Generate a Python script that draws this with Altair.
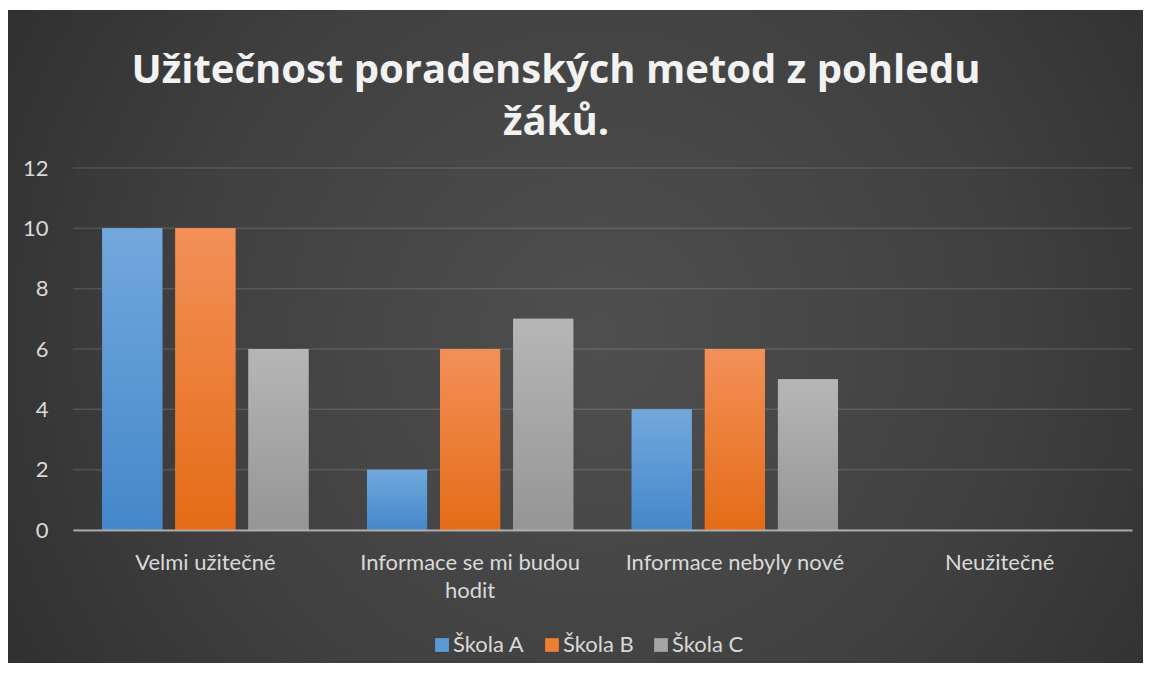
import altair as alt
import pandas as pd

# ---- data ----
categories = ["Velmi užitečné", "Informace se mi budou hodit", "Informace nebyly nové", "Neužitečné"]
series = ["Škola A", "Škola B", "Škola C"]
skola_a = [10, 2, 4, 0]
skola_b = [10, 6, 6, 0]
skola_c = [6, 7, 5, 0]
y_ticks = [0, 2, 4, 6, 8, 10, 12]
title_lines = ["Užitečnost poradenských metod z pohledu", "žáků."]

rows = []
for s, vals in zip(series, [skola_a, skola_b, skola_c]):
    for c, v in zip(categories, vals):
        rows.append({"kategorie": c, "skola": s, "pocet": v})
df = pd.DataFrame(rows)

# ---- layout ----
W, H = 1059, 362
PL, PT, PR, PB = 65, 160, 11, 133
FONT = "Lato"
LABEL = "#d9d9d9"
FS = 22

solid_colors = ["#5b9bd5", "#ed7d31", "#a5a5a5"]
grad_colors = [("#72a8dd", "#4487ca"), ("#f39058", "#e46c17"), ("#b6b6b6", "#959595")]

x_enc = alt.X(
    "kategorie:N",
    sort=categories,
    title=None,
    scale=alt.Scale(paddingInner=0, paddingOuter=0),
    axis=alt.Axis(
        labelAngle=0,
        labelFont=FONT,
        labelFontSize=FS,
        labelColor=LABEL,
        labelPadding=22,
        labelLineHeight=28,
        labelLimit=0,
        labelExpr="datum.value == 'Informace se mi budou hodit' ? ['Informace se mi budou', 'hodit'] : datum.value",
        ticks=False,
        domainColor="#c8c8c8",
        domainOpacity=0.75,
        domainWidth=2,
        grid=False,
        zindex=1,
    ),
)
y_enc = alt.Y(
    "pocet:Q",
    title=None,
    scale=alt.Scale(domain=[0, 12], nice=False),
    axis=alt.Axis(
        values=y_ticks,
        labelFont=FONT,
        labelFontSize=FS,
        labelColor=LABEL,
        labelPadding=25,
        ticks=False,
        domain=False,
        grid=False,
        zindex=1,
    ),
)
xoff_enc = alt.XOffset(
    "skola:N",
    sort=series,
    scale=alt.Scale(domain=series, paddingInner=0.178, paddingOuter=0.40),
)

bg = alt.Chart(pd.DataFrame({"z": [0]})).mark_rect(
    color=alt.RadialGradient(
        gradient="radial",
        x1=0.52, y1=0.5, r1=0,
        x2=0.52, y2=0.5, r2=0.72,
        stops=[
            alt.GradientStop(color="#4f4f4f", offset=0),
            alt.GradientStop(color="#404040", offset=0.5),
            alt.GradientStop(color="#282828", offset=1),
        ],
    )
).encode(
    x=alt.value(-PL), x2=alt.value(W + PR), y=alt.value(-PT + 2), y2=alt.value(H + PB)
)

title = alt.Chart(pd.DataFrame({"z": [0]})).mark_text(
    font="Open Sans",
    fontSize=40,
    fontWeight="bold",
    color="#f2f2f2",
    align="center",
    baseline="alphabetic",
    lineHeight=52,
).encode(x=alt.value(483), y=alt.value(-85), text=alt.value(title_lines))

grid = alt.Chart(pd.DataFrame({"pocet": y_ticks})).mark_rule(
    color="#ffffff", opacity=0.13, strokeWidth=1.5
).encode(y=y_enc, x=alt.value(0), x2=alt.value(W))

solid = alt.Chart(df).mark_bar().encode(
    x=x_enc,
    y=y_enc,
    xOffset=xoff_enc,
    color=alt.Color(
        "skola:N",
        scale=alt.Scale(domain=series, range=solid_colors),
        legend=alt.Legend(
            title=None,
            orient="none",
            legendX=358,
            legendY=466,
            direction="horizontal",
            symbolType="square",
            symbolSize=190,
            symbolStrokeWidth=0,
            symbolOpacity=1,
            labelFont=FONT,
            labelFontSize=FS,
            labelColor=LABEL,
            labelOffset=0,
            columnPadding=16,
        ),
    ),
)

layers = [bg, title, grid, solid]
for s, (top, bottom) in zip(series, grad_colors):
    layers.append(
        alt.Chart(df)
        .transform_filter(alt.datum.skola == s)
        .mark_bar(
            color=alt.LinearGradient(
                gradient="linear",
                x1=0, y1=0, x2=0, y2=1,
                stops=[
                    alt.GradientStop(color=top, offset=0),
                    alt.GradientStop(color=bottom, offset=1),
                ],
            )
        )
        .encode(x=x_enc, y=y_enc, xOffset=xoff_enc)
    )

chart = (
    alt.layer(*layers)
    .properties(
        width=W,
        height=H,
        padding={"left": PL, "top": PT, "right": PR, "bottom": PB},
        autosize=alt.AutoSizeParams(type="none"),
        background="#ffffff",
    )
    .configure_view(stroke=None)
)

chart.save("out.html", embed_options={"renderer": "svg", "actions": False})
